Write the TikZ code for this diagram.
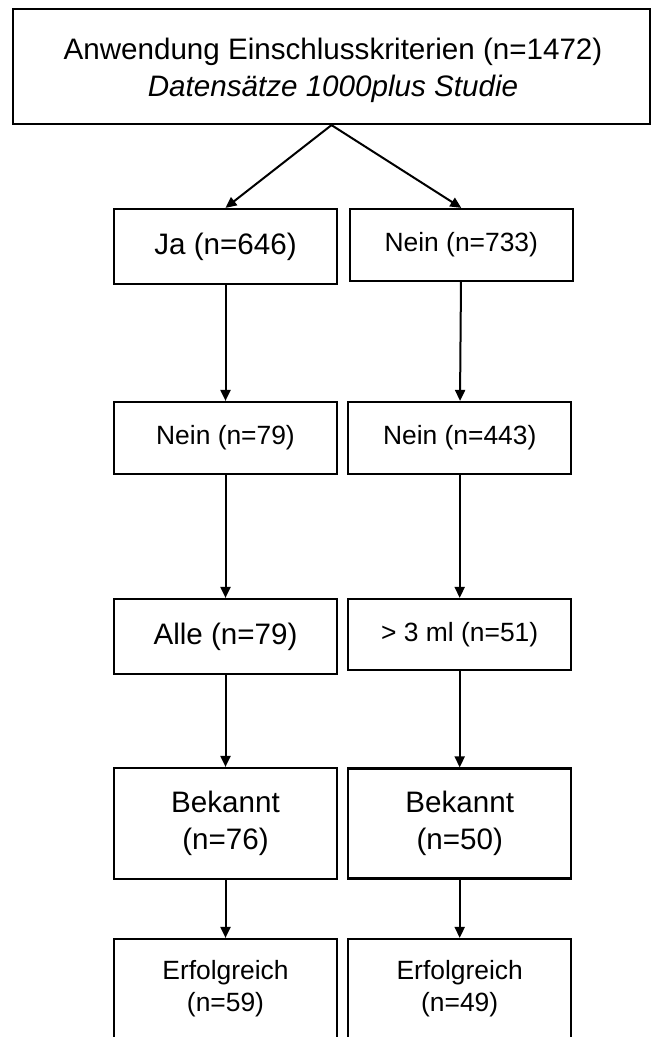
\documentclass[tikz,border=0pt]{standalone}
\usepackage{fontspec}
\setmainfont{Liberation Sans}
\usetikzlibrary{arrows.meta}
\newcommand{\twoline}[2]{\raisebox{-2pt}{\begin{tabular}{@{}c@{}}#1\\#2\end{tabular}}}
\tikzset{
  box/.style={draw=black, line width=2.2pt, rectangle, inner sep=0pt, align=center, fill=white},
  big/.style={font=\fontsize{29.6}{36.5}\selectfont},
  small/.style={font=\fontsize{26.4}{32}\selectfont},
  conn/.style={line width=2pt, -{Triangle[length=11pt,width=10pt]}}
}
\begin{document}
\begin{tikzpicture}[x=1pt,y=-1pt]
\useasboundingbox (0,0) rectangle (651,1037);
\clip (0,0) rectangle (651,1037);
\fill[white] (0,0) rectangle (651,1037);
\node[box, minimum width=637pt, minimum height=115pt] (top) at (331.5,66.5) {};
\node[big, align=center, inner sep=0pt] (toptext) at (333,70.5)
  {Anwendung Einschlusskriterien (n=1472)\\\textit{Datensätze 1000plus Studie}};
\node[box, big, minimum width=223pt, minimum height=75pt] (ja) at (225.5,246.5) {Ja (n=646)};
\node[box, small, minimum width=222.7pt, minimum height=72pt] (nein1) at (461.3,245) {\raisebox{-2pt}{Nein (n=733)}};
\node[box, small, minimum width=223pt, minimum height=72pt] (l2) at (225.5,438) {\raisebox{-2pt}{Nein (n=79)}};
\node[box, small, minimum width=222.7pt, minimum height=72pt] (r2) at (459.7,438) {\raisebox{-2pt}{Nein (n=443)}};
\node[box, big, minimum width=223pt, minimum height=75pt] (l3) at (225.5,636.5) {Alle (n=79)};
\node[box, small, minimum width=222.7pt, minimum height=71pt] (r3) at (459.7,634.5) {\raisebox{-1pt}{> 3 ml (n=51)}};
\node[box, big, minimum width=223pt, minimum height=111pt] (l4) at (225.5,823.5) {\twoline{Bekannt}{(n=76)}};
\node[box, big, minimum width=222.7pt, minimum height=110pt] (r4) at (459.7,823.5) {\twoline{Bekannt}{(n=50)}};
\node[box, small, minimum width=223pt, minimum height=101pt] (l5) at (225.5,989.5) {\twoline{Erfolgreich}{(n=59)}};
\node[box, small, minimum width=222.7pt, minimum height=101pt] (r5) at (459.7,989.5) {\twoline{Erfolgreich}{(n=49)}};
\draw[conn] (top.south) -- (ja.north);
\draw[conn] (top.south) -- (nein1.north);
\draw[conn] (ja) -- (l2);
\draw[conn] (nein1) -- (r2);
\draw[conn] (l2) -- (l3);
\draw[conn] (r2) -- (r3);
\draw[conn] (l3) -- (l4);
\draw[conn] (r3) -- (r4);
\draw[conn] (l4) -- (l5);
\draw[conn] (r4) -- (r5);
\end{tikzpicture}
\end{document}
